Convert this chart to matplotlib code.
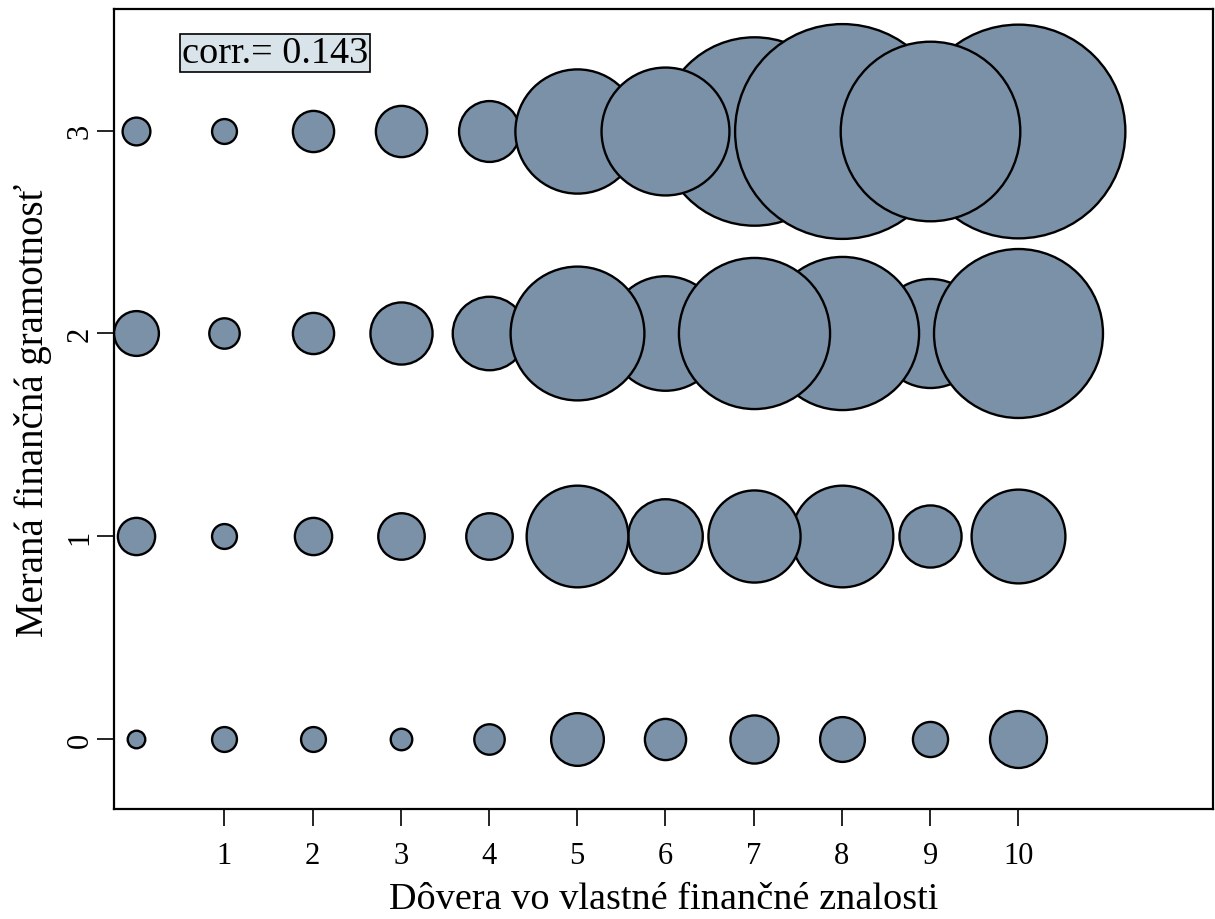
import matplotlib
matplotlib.use("Agg")
import matplotlib.pyplot as plt
import numpy as np

plt.rcParams['font.family'] = ['Liberation Serif', 'DejaVu Serif']

# dovera (x) 0..10, merana gramotnost (y) 0..3 -> frequency of each combination
confidence = list(range(11))
literacy = [0, 1, 2, 3]
freq = {
    0: [2, 4, 4, 3, 6, 18, 11, 15, 13, 8, 21],
    1: [9, 4, 9, 14, 14, 67, 36, 55, 67, 25, 57],
    2: [13, 6, 11, 25, 35, 116, 85, 148, 152, 77, 185],
    3: [5, 4, 11, 17, 24, 100, 106, 230, 299, 209, 296],
}
# order in which bubbles of a row are drawn (later ones on top)
draw_order = {
    0: [0, 1, 2, 3, 4, 5, 6, 7, 8, 9, 10],
    1: [0, 1, 2, 3, 4, 6, 5, 9, 8, 7, 10],
    2: [0, 1, 2, 3, 4, 6, 9, 8, 5, 7, 10],
    3: [0, 1, 2, 3, 4, 5, 7, 10, 6, 8, 9],
}
xticks = [1, 2, 3, 4, 5, 6, 7, 8, 9, 10]
corr_text = "corr.= 0.143"

fig = plt.figure(figsize=(12.15, 9.2), dpi=100)
ax = fig.add_axes([0.0938, 0.1196, 0.9042, 0.8695])

z = 2
for y in literacy:
    for i in draw_order[y]:
        ax.scatter(confidence[i], y, s=freq[y][i] * 80, color='#7b91a8',
                   edgecolors='black', linewidths=1.7, zorder=z)
        z += 1

ax.set_xlim(-0.25, 12.2)
ax.set_ylim(-0.345, 3.6)
ax.set_xticks(xticks)
ax.set_yticks(literacy)
ax.tick_params(axis='both', direction='out', length=12, width=1.2,
               labelsize=22)
ax.tick_params(axis='x', pad=11)
ax.tick_params(axis='y', pad=2)
for lab in ax.get_yticklabels():
    lab.set_rotation(90)
    lab.set_va('center')

for side in ['left', 'bottom', 'top', 'right']:
    ax.spines[side].set_linewidth(1.6)
    ax.spines[side].set_color('black')

ax.set_xlabel('Dôvera vo vlastné finančné znalosti', fontsize=27.5, labelpad=8)
ax.set_ylabel('Meraná finančná gramotnosť', fontsize=28, labelpad=10)

ax.text(0.062, 0.945, corr_text, transform=ax.transAxes, fontsize=27.5,
        va='center', ha='left', zorder=100,
        bbox=dict(boxstyle='square,pad=0.05', facecolor='#d9e4ea',
                  edgecolor='black', linewidth=1.2))

fig.savefig('out.png', dpi=100)
